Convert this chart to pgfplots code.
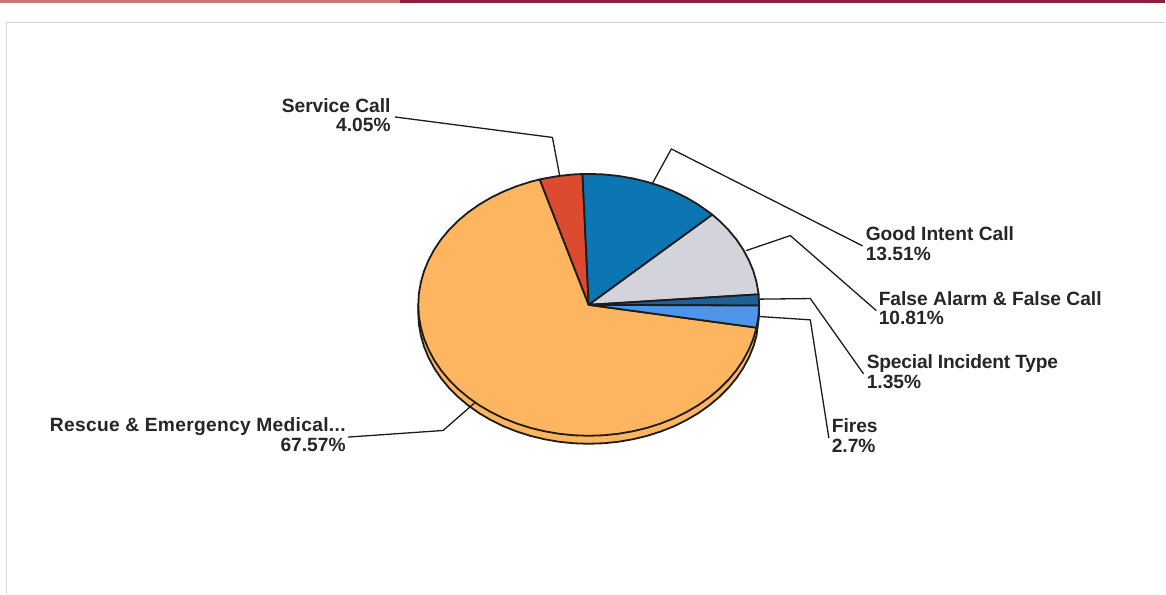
\documentclass[border=0pt]{standalone}
\usepackage{pgfplots}
\pgfplotsset{compat=1.18}
\usepackage{fontspec}
\setmainfont{Liberation Sans}[BoldFont={Liberation Sans Bold}]
\definecolor{cRescue}{HTML}{FDB65F}
\definecolor{cService}{HTML}{DC4B30}
\definecolor{cGood}{HTML}{0B76B2}
\definecolor{cFalse}{HTML}{D3D3DC}
\definecolor{cSpecial}{HTML}{1F6096}
\definecolor{cFires}{HTML}{4E94E8}
\definecolor{cLine}{HTML}{1C1C1C}
\definecolor{cFrame}{HTML}{D4D4D4}
\definecolor{cBar}{HTML}{8E1F3A}
\definecolor{cBarPale}{HTML}{C8767A}
\tikzset{
    slice/.style={draw=cLine, line width=1.8pt, line join=round},
    leader/.style={draw=cLine, line width=1.3pt, line join=round},
    lab/.style={font=\bfseries\fontsize{19.2}{22}\selectfont, text=black!85, inner sep=0pt},
}
\begin{document}
\begin{tikzpicture}
\begin{axis}[
    width=1166pt, height=594pt, scale only axis,
    xmin=0, xmax=1166, ymin=0, ymax=594, y dir=reverse,
    ticks=none, axis line style={draw=none},
    clip=false,
]
% page furniture
\addplot[fill=cBarPale, draw=none] coordinates {(0,0) (400,0) (400,3) (0,3)} --cycle;
\addplot[fill=cBar, draw=none] coordinates {(400,0) (1166,0) (1166,3) (400,3)} --cycle;
\addplot[draw=cFrame, line width=1.2pt] coordinates {(6.5,594) (6.5,22.5) (1166,22.5)};

% rim of the pie
\addplot[slice, fill=cRescue] coordinates {
(759.5,305) (759.2,318) (756.9,335.8) (753.7,346.9) (749.2,357.8) (743.5,368.4) (736.7,378.5) (728.7,388.1)
(719.6,397.2) (709.6,405.6) (698.6,413.4) (686.8,420.3) (674.3,426.5) (661.1,431.7) (647.3,436.1)
(633.1,439.5) (618.6,442.0) (603.9,443.5) (589,444) (574.1,443.5) (559.4,442.0) (544.9,439.5)
(530.7,436.1) (516.9,431.7) (503.8,426.5) (491.2,420.3) (479.4,413.4) (468.4,405.6) (458.4,397.2)
(449.3,388.1) (441.3,378.5) (434.5,368.4) (428.8,357.8) (424.3,346.9) (421.1,335.8) (419.1,324.4)
(418.5,313) (418.5,305)} --cycle;

% Rescue & Emergency Medical 67.57
\addplot[slice, fill=cRescue] coordinates {
(589,305) (756.9,327.8) (753.7,338.9) (749.2,349.8) (743.5,360.4) (736.7,370.5) (728.7,380.1) (719.6,389.2)
(709.6,397.6) (698.6,405.4) (686.8,412.3) (674.3,418.5) (661.1,423.7) (647.3,428.1) (633.1,431.5)
(618.6,434.0) (603.9,435.5) (589,436) (574.1,435.5) (559.4,434.0) (544.9,431.5) (530.7,428.1)
(516.9,423.7) (503.8,418.5) (491.2,412.3) (479.4,405.4) (468.4,397.6) (458.4,389.2) (449.3,380.1)
(441.3,370.5) (434.5,360.4) (428.8,349.8) (424.3,338.9) (421.1,327.8) (419.1,316.4) (418.5,305)
(419.1,293.6) (421.1,282.3) (424.3,271.1) (428.8,260.2) (434.5,249.6) (441.3,239.5) (449.3,229.9)
(458.4,220.8) (468.4,212.4) (479.4,204.7) (491.2,197.7) (503.8,191.6) (516.9,186.3) (530.7,181.9)
(540.0,179.5)} --cycle;

% Service Call 4.05
\addplot[slice, fill=cService] coordinates {
(589,305) (540.0,179.5) (544.9,178.5) (559.4,176.0) (574.1,174.5) (582.8,174.1)} --cycle;

% Good Intent Call 13.51
\addplot[slice, fill=cGood] coordinates {
(589,305) (582.8,174.1) (589,174) (603.9,174.5) (618.6,176.0) (633.1,178.5) (647.3,181.9) (661.1,186.3)
(674.3,191.6) (686.8,197.7) (698.6,204.7) (709.6,212.4) (712.7,214.8)} --cycle;

% False Alarm & False Call 10.81
\addplot[slice, fill=cFalse] coordinates {
(589,305) (712.7,214.8) (719.6,220.8) (728.7,229.9) (736.7,239.5) (743.5,249.6) (749.2,260.2)
(753.7,271.1) (756.9,282.3) (758.9,293.6) (759.0,294.5)} --cycle;

% Special Incident Type 1.35
\addplot[slice, fill=cSpecial] coordinates {
(589,305) (759.0,294.5) (759.5,305) (759.5,305.7)} --cycle;

% Fires 2.7
\addplot[slice, fill=cFires] coordinates {
(589,305) (759.5,305.7) (758.9,316.4) (756.9,327.8)} --cycle;

% leader lines
\addplot[leader] coordinates {(395,117) (552.7,137.5) (560,176)};
\addplot[leader] coordinates {(653,183) (671.7,149) (863,246)};
\addplot[leader] coordinates {(746.7,250.7) (790.7,235.7) (876.7,310.7)};
\addplot[leader] coordinates {(760,299.3) (810.7,298.7) (864,374)};
\addplot[leader] coordinates {(760,316.7) (810.7,320) (829.3,438.3)};
\addplot[leader] coordinates {(348.3,437.3) (443.3,430.7) (475,403)};

% labels
\node[lab, anchor=base east] at (axis cs:391,113) {Service Call};
\node[lab, anchor=base east] at (axis cs:391,132) {4.05\%};
\node[lab, anchor=base west] at (axis cs:866,241) {Good Intent Call};
\node[lab, anchor=base west] at (axis cs:866,261) {13.51\%};
\node[lab, anchor=base west] at (axis cs:879,305.5) {False Alarm \& False Call};
\node[lab, anchor=base west] at (axis cs:879,325) {10.81\%};
\node[lab, anchor=base west] at (axis cs:867,369) {\addfontfeature{LetterSpace=-1}Special Incident Type};
\node[lab, anchor=base west] at (axis cs:867,389) {1.35\%};
\node[lab, anchor=base west] at (axis cs:832,432.5) {Fires};
\node[lab, anchor=base west] at (axis cs:832,452.5) {2.7\%};
\node[lab, anchor=base east] at (axis cs:346,431.5) {\addfontfeature{LetterSpace=1.6}Rescue \& Emergency Medical...};
\node[lab, anchor=base east] at (axis cs:346,451.5) {67.57\%};
\end{axis}
\end{tikzpicture}
\end{document}
